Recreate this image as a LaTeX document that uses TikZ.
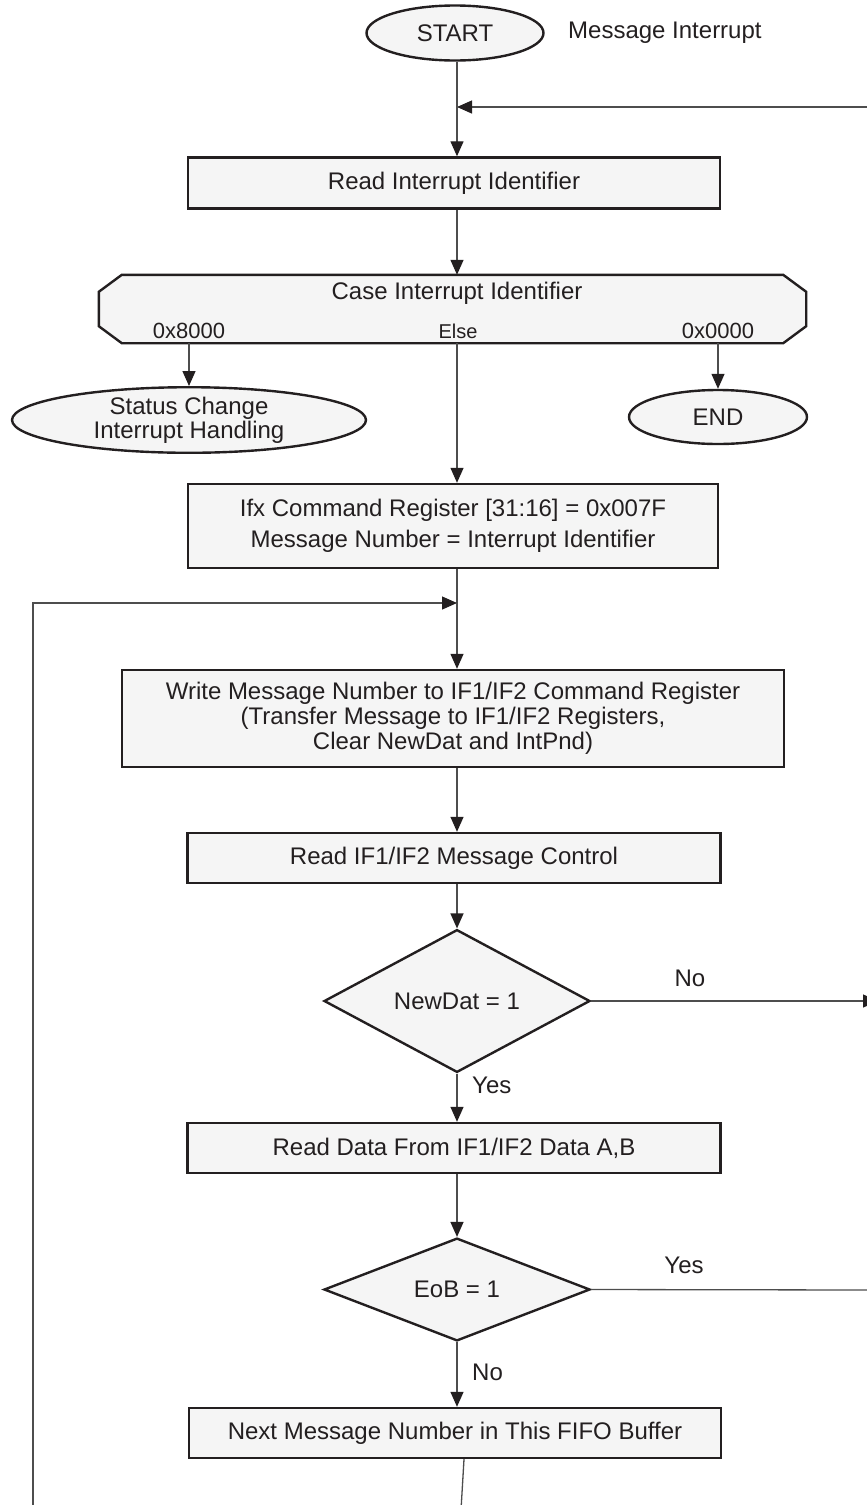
\documentclass[tikz,border=0pt]{standalone}
\usepackage{fontspec}
\setmainfont{Liberation Sans}
\usetikzlibrary{shapes.geometric,arrows.meta,calc}
\definecolor{fillc}{HTML}{F5F5F5}
\definecolor{edgec}{HTML}{231F20}
\definecolor{linec}{HTML}{4D4D4D}
\begin{document}
\begin{tikzpicture}[x=1pt,y=-1pt,
  font=\fontsize{24}{25}\selectfont,
  every node/.append style={text=edgec},
  shapeline/.style={draw=edgec, line width=2.4pt, fill=fillc},
  proc/.style={shapeline, rectangle, minimum height=51pt, inner sep=0pt, align=center},
  term/.style={shapeline, ellipse, inner sep=0pt, align=center},
  dec/.style={shapeline, diamond, inner sep=0pt, minimum width=266pt, minimum height=102pt},
  conn/.style={draw=linec, line width=1.3pt},
  arr/.style={conn, -{Triangle[length=15pt,width=13pt,color=edgec]}},
  lbl/.style={inner sep=0pt},
  small/.style={font=\fontsize{22}{24}\selectfont}
]
\useasboundingbox (0,0) rectangle (867,1505);

% start
\node[term, minimum width=177pt, minimum height=55pt] (start) at (455,33) {START};
\node[lbl, anchor=west] (msg) at (568,33) {Message Interrupt};
\coordinate (entry) at (872,107);
\coordinate (join1) at (457,107);

\node[proc, minimum width=532pt] (b1) at (454,183) {Read Interrupt Identifier};

% case octagon
\node[minimum width=707pt, minimum height=68pt, inner sep=0pt] (oct) at (452.5,309) {};
\draw[shapeline] ($(oct.north west)+(23,0)$) -- ($(oct.north east)+(-23,0)$)
  -- ($(oct.north east)+(0,17)$) -- ($(oct.south east)+(0,-17)$)
  -- ($(oct.south east)+(-23,0)$) -- ($(oct.south west)+(23,0)$)
  -- ($(oct.south west)+(0,-17)$) -- ($(oct.north west)+(0,17)$) -- cycle;
\node[lbl] (case) at (457,293) {Case Interrupt Identifier};
\node[lbl, small] (c8) at (189,331) {0x8000};
\node[lbl, font=\fontsize{20}{22}\selectfont] (celse) at (458,331) {Else};
\node[lbl, small] (c0) at (718,331) {0x0000};

\node[term, minimum width=354pt, minimum height=58pt, font=\fontsize{24}{24}\selectfont] (stat) at (189,420) {Status Change\\Interrupt Handling};
\node[term, minimum width=178pt, minimum height=54pt] (endn) at (718,417) {END};

\node[proc, minimum width=530pt, minimum height=84pt] (b3) at (453,526) {Ifx Command Register [31:16] = 0x007F\\[6pt]Message Number = Interrupt Identifier};

\coordinate (loopL) at (33,603);
\coordinate (join2) at (457,603);
\coordinate (loopB) at (33,1510);

\node[proc, minimum width=662pt, minimum height=97pt] (b4) at (453,718.5) {Write Message Number to IF1/IF2 Command Register\\(Transfer Message to IF1/IF2 Registers,\\Clear NewDat and IntPnd)};

\node[proc, minimum width=533pt, minimum height=50pt] (b5) at (454,858) {Read IF1/IF2 Message Control};

\node[dec] (d1) at (457,1001) {NewDat = 1};
\node[lbl] (no1) at (690,978) {No};
\coordinate (exit1) at (878,1001);
\node[lbl, anchor=west] (yes1) at (472,1085) {Yes};

\node[proc, minimum width=533pt, minimum height=50pt] (b6) at (454,1148) {Read Data From IF1/IF2 Data A,B};

\node[dec, minimum height=99pt] (d2) at (457,1289.5) {EoB = 1};
\node[lbl] (yes2) at (684,1265) {Yes};
\coordinate (exit2) at (872,1290);
\node[lbl, anchor=west] (no2) at (472,1372) {No};

\node[proc, minimum width=532pt, minimum height=50pt] (b7) at (455,1433) {Next Message Number in This FIFO Buffer};
\coordinate (b7out) at (b7.south -| 464,0);
\coordinate (bottomEnd) at (461,1510);

% connectors
\draw[arr] (entry) -- (join1);
\draw[arr] (start.south -| join1) -- (b1.north -| join1);
\draw[arr] (b1.south -| join1) -- (oct.north -| join1);
\draw[arr] (oct.south -| c8) -- (stat.north -| c8);
\draw[arr] (oct.south -| c0) -- (endn.north -| c0);
\draw[arr] (oct.south -| join1) -- (b3.north -| join1);
\draw[conn] (b3.south -| join1) -- (join2);
\draw[arr] (loopB) -- (loopL) -- (join2);
\draw[arr] (join2) -- (b4.north -| join1);
\draw[arr] (b4.south -| join1) -- (b5.north -| join1);
\draw[arr] (b5.south -| join1) -- (d1.north);
\draw[arr] (d1.east) -- (exit1);
\draw[arr] (d1.south) -- (b6.north -| join1);
\draw[arr] (b6.south -| join1) -- (d2.north);
\draw[conn] (d2.east) -- (exit2);
\draw[arr] (d2.south) -- (b7.north -| join1);
\draw[conn] (b7out) -- (bottomEnd);
\end{tikzpicture}
\end{document}
